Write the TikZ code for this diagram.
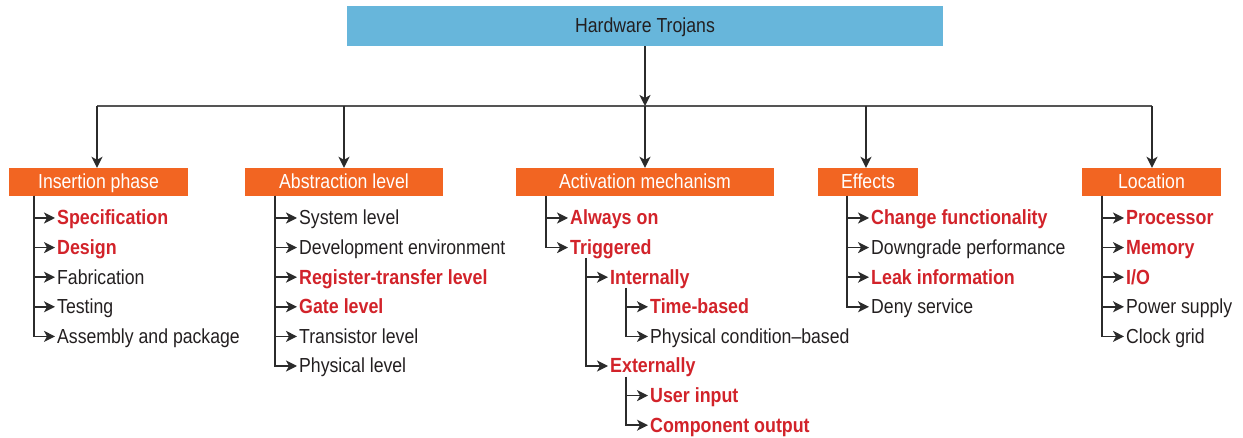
\documentclass[tikz,border=0pt]{standalone}
\usepackage{fontspec}
\setmainfont{Liberation Sans}[FakeStretch=0.87]
\usetikzlibrary{arrows.meta}
\definecolor{topblue}{HTML}{67B6DB}
\definecolor{catorange}{HTML}{F26522}
\definecolor{hired}{HTML}{D2232A}
\definecolor{txt}{HTML}{231F20}
\definecolor{ln}{HTML}{2B2B2B}
\tikzset{
  arr/.style={draw=ln, line width=1.5pt, -{Stealth[length=11pt,width=11pt,inset=3pt]}},
  bus/.style={draw=ln!80, line width=1.7pt},
  topbox/.style={fill=topblue, minimum width=596pt, minimum height=40pt, inner sep=0pt, text=txt, text height=14pt, text depth=0pt},
  catbox/.style={fill=catorange, minimum height=28pt, inner sep=0pt, text=white, text height=14pt, text depth=0pt},
  item/.style={anchor=west, inner xsep=2pt, inner ysep=0pt, text height=14pt, text depth=0pt, text=txt},
  hot/.style={item, text=hired, font=\fontsize{20.5}{24}\selectfont\bfseries},
}
\begin{document}
\begin{tikzpicture}[x=1pt,y=-1pt, font=\fontsize{20.3}{24}\selectfont]
\useasboundingbox (0,0) rectangle (1243,438);
% top
\node[topbox] (top) at (645,26) {Hardware Trojans};
\coordinate (busL) at (97,106);
\coordinate (busR) at (1152,106);
\coordinate (busC) at (645,106);
\draw[bus] (busL) -- (busR);
\draw[arr] (top.south) -- (busC);
% categories
\node[catbox, minimum width=179pt] (ins) at (98.5,182) {Insertion phase};
\node[catbox, minimum width=198pt] (abs) at (344,182) {Abstraction level};
\node[catbox, minimum width=258pt] (act) at (645,182) {Activation mechanism};
\node[catbox, minimum width=100pt] (eff) at (868,182) {Effects};
\node[catbox, minimum width=139pt] (loc) at (1151.5,182) {Location};
\draw[arr] (busL) -- (busL |- ins.north);
\draw[arr] (busL -| abs.north) -- (abs.north);
\draw[arr] (busC) -- (act.north);
\draw[arr] (866,106) coordinate (busE) -- (busE |- eff.north);
\draw[arr] (busR) -- (busR |- loc.north);
% Insertion phase
\coordinate (t1) at (34,196);
\node[hot]  (i1) at (55,218) {Specification};
\node[hot]  (i2) at (55,247.6) {Design};
\node[item] (i3) at (55,277.2) {Fabrication};
\node[item] (i4) at (55,306.8) {Testing};
\node[item] (i5) at (55,336.4) {Assembly and package};
\foreach \n in {i1,i2,i3,i4,i5} \draw[arr] (t1) |- (\n.west);
% Abstraction level
\coordinate (t2) at (275,196);
\node[item] (a1) at (297,218) {System level};
\node[item] (a2) at (297,247.6) {Development environment};
\node[hot]  (a3) at (297,277.2) {Register-transfer level};
\node[hot]  (a4) at (297,306.8) {Gate level};
\node[item] (a5) at (297,336.4) {Transistor level};
\node[item] (a6) at (297,366) {Physical level};
\foreach \n in {a1,a2,a3,a4,a5,a6} \draw[arr] (t2) |- (\n.west);
% Activation mechanism
\coordinate (t3) at (546,196);
\node[hot] (m1) at (568,218) {Always on};
\node[hot] (m2) at (568,247.6) {Triggered};
\foreach \n in {m1,m2} \draw[arr] (t3) |- (\n.west);
\coordinate (t3b) at (586,258);
\node[hot] (m3) at (608,277.2) {Internally};
\node[hot] (m6) at (608,366) {Externally};
\foreach \n in {m3,m6} \draw[arr] (t3b) |- (\n.west);
\coordinate (t3c) at (626,288);
\node[hot]  (m4) at (648,306.8) {Time-based};
\node[item] (m5) at (648,336.4) {Physical condition–based};
\foreach \n in {m4,m5} \draw[arr] (t3c) |- (\n.west);
\coordinate (t3d) at (626,377);
\node[hot] (m7) at (648,395.6) {User input};
\node[hot] (m8) at (648,425.2) {Component output};
\foreach \n in {m7,m8} \draw[arr] (t3d) |- (\n.west);
% Effects
\coordinate (t4) at (847,196);
\node[hot]  (e1) at (869,218) {Change functionality};
\node[item] (e2) at (869,247.6) {Downgrade performance};
\node[hot]  (e3) at (869,277.2) {Leak information};
\node[item] (e4) at (869,306.8) {Deny service};
\foreach \n in {e1,e2,e3,e4} \draw[arr] (t4) |- (\n.west);
% Location
\coordinate (t5) at (1102,196);
\node[hot]  (l1) at (1124,218) {Processor};
\node[hot]  (l2) at (1124,247.6) {Memory};
\node[hot]  (l3) at (1124,277.2) {I/O};
\node[item] (l4) at (1124,306.8) {Power supply};
\node[item] (l5) at (1124,336.4) {Clock grid};
\foreach \n in {l1,l2,l3,l4,l5} \draw[arr] (t5) |- (\n.west);
\end{tikzpicture}
\end{document}
